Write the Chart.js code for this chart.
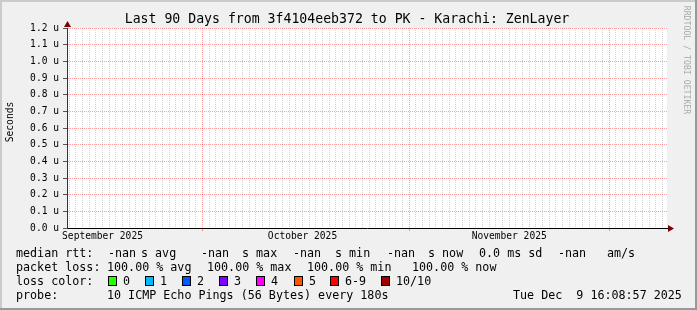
<!DOCTYPE html>
<html>
<head>
<meta charset="utf-8">
<script src="https://cdn.jsdelivr.net/npm/chart.js@4/dist/chart.umd.min.js"></script>
<style>
  html, body { margin: 0; padding: 0; background: #f0f0f0; }
  #wrap { position: relative; width: 697px; height: 310px; font-family: "DejaVu Sans Mono", monospace; color: #000; }
  #wrap canvas { position: absolute; left: 0; top: 0; }
  .txt { position: absolute; white-space: pre; line-height: 14px; }
  .sw { position: absolute; width: 7px; height: 8px; border: 1px solid #000; }
</style>
</head>
<body>
<div id="wrap">
  <canvas id="chart" width="697" height="310"></canvas>
  <div class="txt" id="title" style="left:0; width:694px; top:12px; text-align:center; font-size:13.2px;">Last 90 Days from 3f4104eeb372 to PK - Karachi: ZenLayer</div>
  <div class="txt" id="ylabel" style="left:-19px; top:115px; width:58px; text-align:center; font-size:9.6px; transform:rotate(-90deg);">Seconds</div>
  <div class="txt" id="mark" style="left:632px; top:53px; width:110px; text-align:center; font-size:8.2px; color:#aaa; transform:rotate(90deg);">RRDTOOL / TOBI OETIKER</div>
  <div id="legend"></div>
</div>
<script>
// time range of the graph: last 90 days up to the graph time
const DAY = 86400000;
const endTime = Date.UTC(2025, 11, 9, 16, 8, 57);
const startTime = endTime - 90 * DAY;

// month labels sit in the middle of the month, month starts get the red grid line
const monthLabels = ["September 2025", "October 2025", "November 2025"];
const monthLabelDates = [Date.UTC(2025, 8, 16), Date.UTC(2025, 9, 16), Date.UTC(2025, 10, 16)];
const monthStarts = [Date.UTC(2025, 9, 1), Date.UTC(2025, 10, 1), Date.UTC(2025, 11, 1)];

// y axis (seconds)
const yTickValues = [0, 0.1e-6, 0.2e-6, 0.3e-6, 0.4e-6, 0.5e-6, 0.6e-6, 0.7e-6, 0.8e-6, 0.9e-6, 1.0e-6, 1.1e-6, 1.2e-6];
const yTickLabels = ["0.0 u", "0.1 u", "0.2 u", "0.3 u", "0.4 u", "0.5 u", "0.6 u", "0.7 u", "0.8 u", "0.9 u", "1.0 u", "1.1 u", "1.2 u"];

// median rtt samples: every value is -nan (100% loss), so nothing gets drawn
const rttTimes = [];
const medianRtt = [];

// legend values
const rttStats = ["-nan", "-nan", "-nan", "-nan", "0.0", "-nan"];
const lossStats = ["100.00", "100.00", "100.00", "100.00"];
const lossLevels = ["0", "1", "2", "3", "4", "5", "6-9", "10/10"];
const lossColors = ["#26ff00", "#00b8ff", "#0059ff", "#7e00ff", "#ff00ff", "#ff5500", "#ff0000", "#a10000"];

const minorColor = "rgba(128,128,128,0.35)";
const majorColor = "rgba(255,0,0,0.38)";
const monoFont = "DejaVu Sans Mono";

// legend rows, laid out like rrdtool does
function buildLegend() {
  const legend = document.getElementById("legend");
  function put(x, y, text) {
    const el = document.createElement("div");
    el.className = "txt";
    el.style.left = x + "px";
    el.style.top = y + "px";
    el.style.fontSize = "11.7px";
    el.textContent = text;
    legend.appendChild(el);
  }
  const r1 = 246, r2 = 260, r3 = 274, r4 = 288;
  put(16, r1, "median rtt:");
  const rttX = [108, 201, 293, 387];
  const unitText = ["s avg", "s max", "s min", "s now"];
  const unitX = [141, 242, 335, 428];
  rttX.forEach((x, i) => { put(x, r1, rttStats[i]); put(unitX[i], r1, unitText[i]); });
  put(479, r1, rttStats[4] + " ms sd");
  put(558, r1, rttStats[5]);
  put(607, r1, "am/s");

  put(16, r2, "packet loss:");
  const lossX = [107, 207, 307, 412];
  const lossText = ["avg", "max", "min", "now"];
  lossX.forEach((x, i) => put(x, r2, lossStats[i] + " % " + lossText[i]));

  put(16, r3, "loss color:");
  const swX = [108, 145, 182, 219, 256, 294, 330, 381];
  lossLevels.forEach((lvl, i) => {
    const sw = document.createElement("div");
    sw.className = "sw";
    sw.style.left = swX[i] + "px";
    sw.style.top = "276px";
    sw.style.background = lossColors[i];
    legend.appendChild(sw);
    put(swX[i] + 15, r3, lvl);
  });

  put(16, r4, "probe:");
  put(107, r4, "10 ICMP Echo Pings (56 Bytes) every 180s");
  put(513, r4, "Tue Dec  9 16:08:57 2025");
}
buildLegend();

// frame, white canvas and the two axis arrows
const rrdFrame = {
  id: "rrdFrame",
  beforeDraw(chart) {
    const { ctx, chartArea: a, width, height } = chart;
    ctx.save();
    ctx.fillStyle = "#f0f0f0";
    ctx.fillRect(0, 0, width, height);
    ctx.fillStyle = "#cbcbcb";
    ctx.fillRect(0, 0, width, 2);
    ctx.fillRect(0, 0, 2, height);
    ctx.fillStyle = "#999999";
    ctx.fillRect(0, height - 2, width, 2);
    ctx.fillRect(width - 2, 0, 2, height);
    ctx.fillStyle = "#ffffff";
    ctx.fillRect(a.left, a.top, a.right - a.left, a.bottom - a.top);
    ctx.restore();
  },
  afterDraw(chart) {
    const { ctx, chartArea: a } = chart;
    ctx.save();
    ctx.fillStyle = "#7f0000";
    ctx.beginPath();
    ctx.moveTo(a.left + 0.5, a.top - 7);
    ctx.lineTo(a.left - 3, a.top - 1);
    ctx.lineTo(a.left + 4, a.top - 1);
    ctx.fill();
    ctx.beginPath();
    ctx.moveTo(a.right + 7, a.bottom + 0.5);
    ctx.lineTo(a.right + 1, a.bottom - 3);
    ctx.lineTo(a.right + 1, a.bottom + 4);
    ctx.fill();
    ctx.restore();
  }
};

new Chart(document.getElementById("chart"), {
  type: "line",
  data: {
    datasets: [{
      label: "median rtt",
      data: rttTimes.map((t, i) => ({ x: t, y: medianRtt[i] })),
      borderColor: "#00aa00",
      pointRadius: 0,
      spanGaps: false
    }]
  },
  options: {
    responsive: false,
    animation: false,
    layout: { padding: { left: 0, top: 28, right: 30, bottom: 0 } },
    plugins: { legend: { display: false }, title: { display: false }, tooltip: { enabled: false } },
    scales: {
      x: {
        type: "linear",
        min: startTime,
        max: endTime,
        afterFit: (scale) => { scale.height = 82; },
        afterBuildTicks: (scale) => {
          const ticks = [];
          for (let t = Math.ceil(startTime / DAY) * DAY; t <= endTime; t += DAY) {
            ticks.push({ value: t, month: monthStarts.includes(t) });
          }
          monthLabelDates.forEach((d, i) => ticks.push({ value: d, text: monthLabels[i] }));
          scale.ticks = ticks;
        },
        ticks: {
          autoSkip: false,
          maxRotation: 0,
          padding: 0,
          color: "#000",
          font: { family: monoFont, size: 9.6 },
          callback: (value, index, ticks) => ticks[index].text || ""
        },
        grid: {
          color: (c) => c.tick && c.tick.text ? "rgba(0,0,0,0)" : (c.tick && c.tick.month ? majorColor : minorColor),
          tickColor: (c) => c.tick && c.tick.month ? majorColor : "rgba(0,0,0,0)",
          tickLength: 3,
          lineWidth: 1
        },
        border: { color: "#000", width: 1, dash: [1, 1] }
      },
      y: {
        min: 0,
        max: 1.2e-6,
        afterFit: (scale) => { scale.width = 67; },
        afterBuildTicks: (scale) => { scale.ticks = yTickValues.map((v) => ({ value: v })); },
        ticks: {
          padding: 4,
          color: "#000",
          font: { family: monoFont, size: 9.6 },
          callback: (value, index) => yTickLabels[index]
        },
        grid: {
          color: (c) => c.index === 0 ? "rgba(0,0,0,0)" : majorColor,
          tickColor: "#555",
          tickLength: 4,
          lineWidth: 1
        },
        border: { color: "#333", width: 1, dash: [1, 1] }
      }
    }
  },
  plugins: [rrdFrame]
});
</script>
</body>
</html>
